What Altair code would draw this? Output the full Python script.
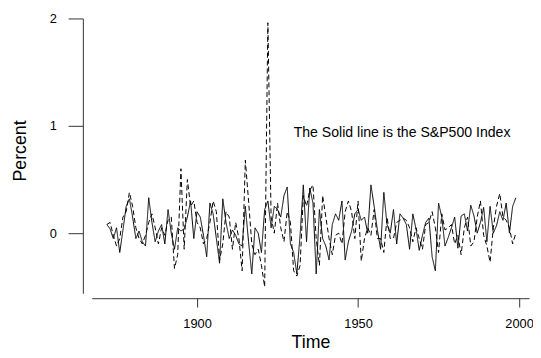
import altair as alt
import pandas as pd

# Years of the two annual series
years = list(range(1872, 2000))

sp500 = [
    0.08, 0.04, -0.05, 0.05, -0.18, 0.03, 0.25, 0.32, 0.15, -0.05,
    0.02, -0.08, -0.12, 0.33, 0.10, -0.08, 0.02, 0.08, -0.10, 0.22,
    0.00, -0.15, 0.05, 0.02, 0.04, 0.15, 0.30, -0.05, 0.20, 0.15,
    -0.02, -0.22, 0.28, 0.18, -0.05, -0.28, 0.32, 0.10, -0.05, 0.03,
    -0.02, -0.10, -0.12, 0.25, -0.08, -0.38, 0.05, 0.00, -0.18, 0.22,
    0.30, 0.05, 0.25, 0.22, 0.15, 0.35, 0.43, -0.10, -0.18, -0.38,
    -0.02, 0.45, -0.08, 0.42, 0.28, -0.38, 0.22, -0.05, -0.12, -0.25,
    0.08, 0.18, 0.12, 0.30, -0.25, -0.08, 0.02, 0.18, 0.22, 0.12,
    0.15, 0.00, 0.45, 0.25, 0.03, -0.15, 0.38, 0.08, 0.00, 0.22,
    -0.10, 0.18, 0.14, 0.08, -0.15, 0.18, 0.04, -0.16, -0.02, 0.10,
    0.14, -0.22, -0.35, 0.28, 0.15, -0.12, -0.04, 0.05, 0.15, -0.14,
    0.16, 0.18, 0.02, 0.26, 0.16, 0.00, 0.10, 0.24, -0.08, 0.25,
    0.00, 0.07, 0.20, 0.12, 0.28, 0.00, 0.25, 0.33,
]

# Dashed line: second series
other = [
    0.08, 0.10, -0.02, -0.12, -0.05, 0.15, 0.20, 0.38, 0.25, 0.05,
    -0.05, -0.10, -0.02, 0.10, 0.18, 0.05, -0.10, 0.05, -0.02, 0.12,
    0.15, -0.33, -0.20, 0.60, -0.15, 0.50, 0.25, 0.30, 0.10, 0.05,
    -0.10, -0.05, 0.10, 0.30, 0.20, -0.25, -0.10, 0.20, 0.15, -0.15,
    0.10, -0.05, -0.35, 0.68, 0.30, -0.10, -0.20, -0.15, -0.30, -0.50,
    1.96, 0.15, 0.00, 0.28, 0.05, -0.08, 0.20, 0.10, -0.35, -0.40,
    -0.30, 0.35, 0.25, 0.40, 0.45, -0.05, -0.30, 0.35, 0.15, -0.05,
    -0.20, -0.02, 0.00, -0.10, 0.20, 0.30, 0.20, -0.05, 0.30, -0.26,
    -0.05, 0.05, -0.02, 0.22, -0.05, -0.05, -0.18, 0.15, -0.05, -0.05,
    0.10, 0.12, 0.14, 0.12, 0.05, -0.08, 0.05, -0.05, -0.15, 0.08,
    0.10, 0.20, 0.05, -0.18, 0.18, 0.03, 0.05, 0.08, -0.10, -0.02,
    -0.20, 0.05, 0.15, -0.12, -0.08, 0.15, 0.30, -0.02, -0.12, -0.27,
    0.05, 0.25, 0.37, 0.15, 0.12, 0.05, -0.10, 0.00,
]

series_names = ["S&P500", "Other"]
x_ticks = [1900, 1950, 2000]
y_ticks = [0, 1, 2]
note_text = "The Solid line is the S&P500 Index"

df = pd.concat([
    pd.DataFrame({"Time": years, "Percent": sp500, "series": series_names[0]}),
    pd.DataFrame({"Time": years, "Percent": other, "series": series_names[1]}),
])

FONT = "Liberation Sans"

x_scale = alt.Scale(domain=[1867.3, 2003.1], nice=False, zero=False)
y_scale = alt.Scale(domain=[-0.56, 2.0], nice=False, zero=False)

lines = alt.Chart(df).mark_line(color="black", strokeWidth=1).encode(
    x=alt.X("Time:Q", scale=x_scale,
            axis=alt.Axis(values=x_ticks, format="d", grid=False, offset=5,
                          tickSize=9, labelPadding=11, labelFontSize=13,
                          labelFont=FONT, labelColor="black",
                          domainColor="#333", tickColor="#333",
                          title="Time", titleFont=FONT, titleFontSize=18,
                          titleFontWeight="normal", titleColor="black",
                          titleBaseline="alphabetic", titleY=50)),
    y=alt.Y("Percent:Q", scale=y_scale,
            axis=alt.Axis(values=y_ticks, format="d", grid=False, offset=9,
                          tickSize=15, labelPadding=12, labelFontSize=13,
                          labelFont=FONT, labelColor="black",
                          domainColor="#333", tickColor="#333",
                          title="Percent", titleFont=FONT, titleFontSize=18,
                          titleFontWeight="normal", titleColor="black",
                          titleAngle=270, titleAlign="center",
                          titleBaseline="middle", titleX=-63, titleY=134)),
    strokeDash=alt.StrokeDash("series:N",
                              scale=alt.Scale(domain=series_names,
                                              range=[[1, 0], [5, 3]]),
                              legend=None),
    detail="series:N",
)

note = alt.Chart(pd.DataFrame({"Time": [1930.0], "Percent": [0.93], "label": [note_text]})).mark_text(
    align="left", baseline="middle", font=FONT, fontSize=14.3, color="black"
).encode(
    x=alt.X("Time:Q", scale=x_scale),
    y=alt.Y("Percent:Q", scale=y_scale),
    text="label:N",
)

chart = alt.layer(lines, note).properties(
    width=444,
    height=279,
    autosize=alt.AutoSizeParams(type="none"),
    padding={"left": 85, "top": 8, "right": 4, "bottom": 58},
).configure(background="white").configure_view(stroke=None)

chart.save("out.html", embed_options={"renderer": "svg", "actions": False})
